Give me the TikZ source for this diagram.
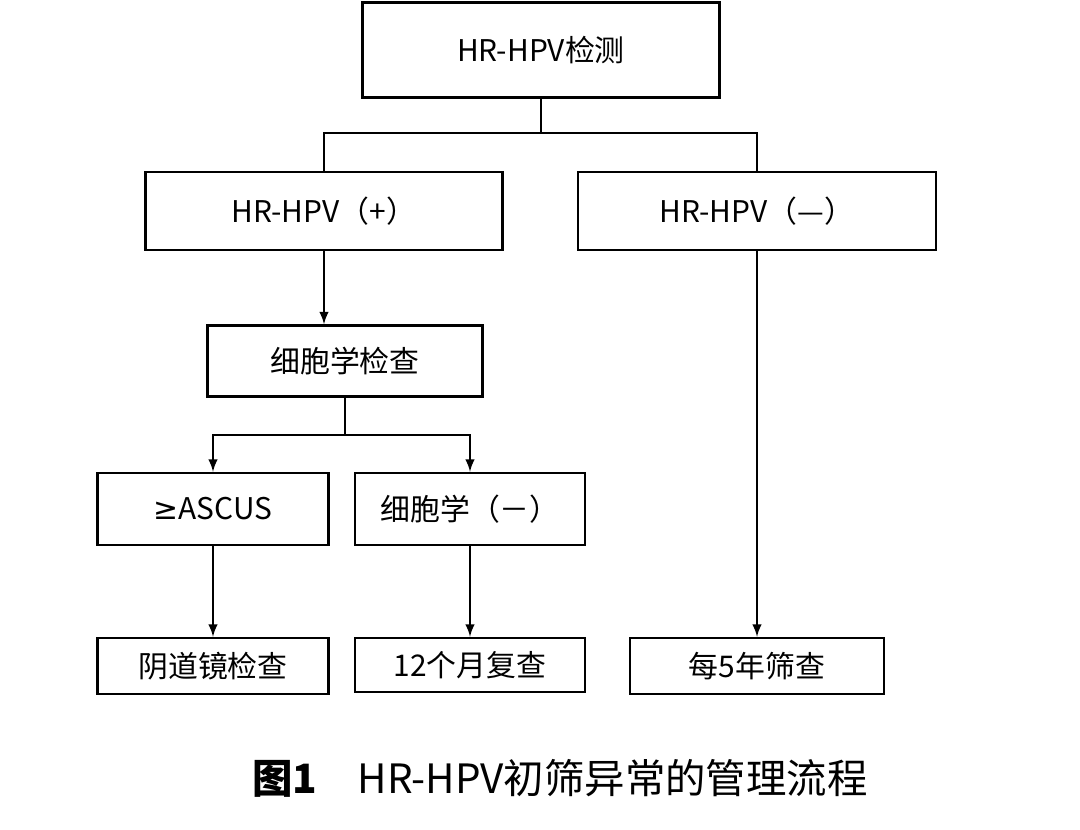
\documentclass[tikz,border=0pt]{standalone}
\usepackage{fontspec}
\setmainfont{Noto Sans CJK SC}
\newfontfamily\djv{DejaVu Sans}
\begin{document}
\begin{tikzpicture}[x=0.02cm,y=-0.02cm,
  bx/.style={draw,line width=1.4pt,minimum height=#1*0.02cm,inner sep=0pt,font=\fontsize{17}{19}\selectfont},
  ln/.style={line width=1.4pt},
  ar/.style={line width=1.4pt,-latex}]
\useasboundingbox (0,0) rectangle (1080,830);
\node[bx=95,minimum width=357*0.02cm] (top) at (541,50) {HR-HPV检测};
\node[bx=78,minimum width=357*0.02cm] (pos) at (324,211) {HR-HPV（+）};
\node[bx=78,minimum width=358*0.02cm] (neg) at (757,211) {HR-HPV（—）};
\node[bx=71,minimum width=275*0.02cm] (cyt) at (345,361) {细胞学检查};
\node[bx=72,minimum width=231*0.02cm] (asc) at (213,509) {{\djv ≥}ASCUS};
\node[bx=72,minimum width=230*0.02cm] (cn) at (470,509) {细胞学（－）};
\node[bx=56,minimum width=231*0.02cm] (col) at (213,666) {阴道镜检查};
\node[bx=54,minimum width=230*0.02cm] (m12) at (470,665) {12个月复查};
\node[bx=56,minimum width=254*0.02cm] (y5) at (757,666) {每5年筛查};
\coordinate (j1) at (541,133);
\coordinate (j2) at (345,435);
\draw[ln] (top.south) -- (j1);
\draw[ln] (j1) -- (324,133) -- (pos.north);
\draw[ln] (j1) -- (757,133) -- (neg.north);
\draw[ar] (pos.south) -- (pos.south |- cyt.north);
\draw[ln] (cyt.south) -- (j2);
\draw[ar] (j2) -- (213,435) -- (asc.north);
\draw[ar] (j2) -- (470,435) -- (cn.north);
\draw[ar] (asc.south) -- (col.north);
\draw[ar] (cn.south) -- (m12.north);
\draw[ar] (neg.south) -- (y5.north);
\node[font=\fontsize{23}{26}\selectfont] (cap) at (560,778) {\textbf{图1}\quad HR-HPV初筛异常的管理流程};
\end{tikzpicture}
\end{document}
